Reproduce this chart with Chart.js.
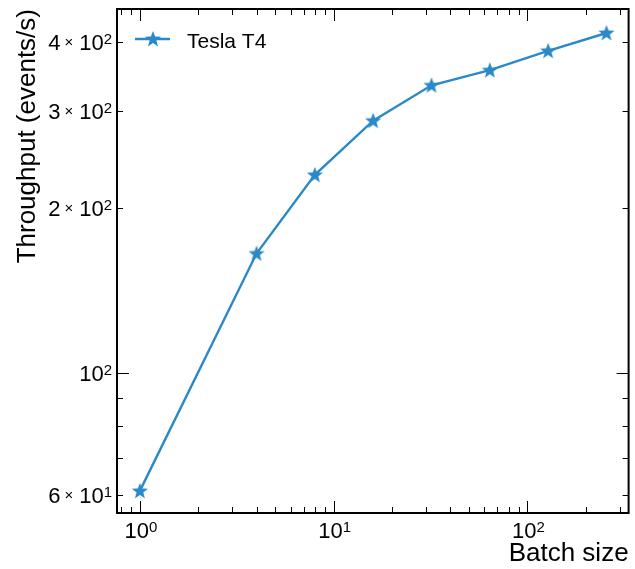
<!DOCTYPE html>
<html>
<head>
<meta charset="utf-8">
<script src="https://cdn.jsdelivr.net/npm/chart.js@4/dist/chart.umd.min.js"></script>
<style>
  html, body { margin: 0; padding: 0; background: #fff; }
  #wrap { width: 635px; height: 569px; }
</style>
</head>
<body>
<div id="wrap"><canvas id="chart"></canvas></div>
<script>
const batchSizes = [1, 4, 8, 16, 32, 64, 128, 256];
const throughput = [61, 165, 229.5, 288, 334, 356, 386, 416];
const seriesLabel = 'Tesla T4';

// tick positions; labels are [mantissa, exponent]
const xTickValues = [0.8, 0.9, 1, 2, 3, 4, 5, 6, 7, 8, 9, 10, 20, 30, 40, 50, 60, 70, 80, 90, 100, 200, 300];
const xMajor = [1, 10, 100];
const xTickLabels = { 1: ['', '0'], 10: ['', '1'], 100: ['', '2'] };

const yTickValues = [60, 70, 80, 90, 100, 200, 300, 400];
const yMajor = [100];
const yTickLabels = { 60: ['6', '1'], 100: ['', '2'], 200: ['2', '2'], 300: ['3', '2'], 400: ['4', '2'] };

const lineColor = '#2a89c6';
const fontFamily = '"Liberation Sans", Arial, sans-serif';
const tickSize = 22, supSize = 15;

// filled five-point star used as the marker
function makeStar(size, color) {
    const c = document.createElement('canvas');
    c.width = size; c.height = size;
    const g = c.getContext('2d');
    const cx = size / 2, cy = size / 2 + 0.5;
    const outer = size / 2 - 0.5, inner = outer * 0.42;
    g.beginPath();
    for (let i = 0; i < 10; i++) {
        const r = i % 2 === 0 ? outer : inner;
        const a = -Math.PI / 2 + i * Math.PI / 5;
        const px = cx + r * Math.cos(a), py = cy + r * Math.sin(a);
        if (i === 0) g.moveTo(px, py); else g.lineTo(px, py);
    }
    g.closePath();
    g.fillStyle = color;
    g.fill();
    return c;
}
const starImg = makeStar(18, lineColor);

// "m × 10^e" as pieces, measured so it can be aligned
function labelParts(ctx, lab) {
    const parts = [];
    if (lab[0]) {
        parts.push({ t: lab[0], size: tickSize, dy: 0, gap: 4 });
        parts.push({ t: '\u00d7', size: supSize, dy: -3, gap: 6 });
    }
    parts.push({ t: '10', size: tickSize, dy: 0, gap: 0 });
    parts.push({ t: lab[1], size: supSize, dy: -6, gap: 0 });
    let w = 0;
    parts.forEach(p => {
        ctx.font = p.size + 'px ' + fontFamily;
        p.w = ctx.measureText(p.t).width;
        w += p.w + p.gap;
    });
    return { parts, w };
}

function drawLabel(ctx, lab, xStart, baseline) {
    let x = xStart;
    lab.parts.forEach(p => {
        ctx.font = p.size + 'px ' + fontFamily;
        ctx.fillText(p.t, x, baseline + p.dy);
        x += p.w + p.gap;
    });
}

// frame, inward ticks on all sides, tick labels and the in-plot legend
const framePlugin = {
    id: 'frame',
    afterDraw(chart) {
        const ctx = chart.ctx;
        const { left, right, top, bottom } = chart.chartArea;
        const xs = chart.scales.x, ys = chart.scales.y;
        ctx.save();
        ctx.strokeStyle = '#000';
        ctx.lineWidth = 1;
        ctx.beginPath();
        xTickValues.forEach(v => {
            const px = Math.round(xs.getPixelForValue(v)) + 0.5;
            const len = xMajor.includes(v) ? 12 : 6;
            ctx.moveTo(px, bottom); ctx.lineTo(px, bottom - len);
            ctx.moveTo(px, top); ctx.lineTo(px, top + len);
        });
        yTickValues.forEach(v => {
            const py = Math.round(ys.getPixelForValue(v)) + 0.5;
            const len = yMajor.includes(v) ? 12 : 6;
            ctx.moveTo(left, py); ctx.lineTo(left + len, py);
            ctx.moveTo(right, py); ctx.lineTo(right - len, py);
        });
        ctx.stroke();
        ctx.lineWidth = 2;
        ctx.strokeRect(left, top, right - left, bottom - top);

        // tick labels
        ctx.fillStyle = '#000';
        ctx.textBaseline = 'alphabetic';
        ctx.textAlign = 'left';
        Object.keys(yTickLabels).forEach(k => {
            const lab = labelParts(ctx, yTickLabels[k]);
            const py = ys.getPixelForValue(Number(k));
            drawLabel(ctx, lab, left - 5 - lab.w, py + 0.358 * tickSize);
        });
        Object.keys(xTickLabels).forEach(k => {
            const lab = labelParts(ctx, xTickLabels[k]);
            const px = xs.getPixelForValue(Number(k));
            drawLabel(ctx, lab, px - lab.w / 2 + 1, bottom + 9 + 0.716 * tickSize);
        });

        // legend
        const ly = top + 30;
        ctx.strokeStyle = lineColor;
        ctx.lineWidth = 2.4;
        ctx.beginPath();
        ctx.moveTo(left + 18, ly); ctx.lineTo(left + 53, ly);
        ctx.stroke();
        ctx.drawImage(starImg, left + 36 - starImg.width / 2, ly - starImg.height / 2);
        ctx.fillStyle = '#000';
        ctx.font = '21px ' + fontFamily;
        ctx.fillText(chart.data.datasets[0].label, left + 70, ly + 8.5);
        ctx.restore();
    }
};

new Chart(document.getElementById('chart'), {
    type: 'line',
    data: {
        labels: batchSizes,
        datasets: [{
            label: seriesLabel,
            data: batchSizes.map((b, i) => ({ x: b, y: throughput[i] })),
            borderColor: lineColor,
            backgroundColor: lineColor,
            borderWidth: 2.4,
            pointStyle: starImg,
            tension: 0
        }]
    },
    options: {
        responsive: true,
        maintainAspectRatio: false,
        animation: false,
        layout: { padding: { top: 9, right: 1, left: 0, bottom: 0 } },
        plugins: {
            legend: { display: false },
            tooltip: { enabled: false }
        },
        scales: {
            x: {
                type: 'logarithmic',
                min: 0.762,
                max: 333,
                afterBuildTicks: s => { s.ticks = xTickValues.map(v => ({ value: v })); },
                afterFit: s => { s.height = 56; s.paddingLeft = 0; s.paddingRight = 0; },
                grid: { display: false, drawTicks: false },
                border: { display: false },
                ticks: { autoSkip: false, maxRotation: 0, callback: () => '' },
                title: {
                    display: true,
                    text: 'Batch size',
                    align: 'end',
                    color: '#000',
                    font: { family: fontFamily, size: 26 },
                    padding: { top: 0, bottom: 0 }
                }
            },
            y: {
                type: 'logarithmic',
                min: 55.6,
                max: 460,
                afterBuildTicks: s => { s.ticks = yTickValues.map(v => ({ value: v })); },
                afterFit: s => { s.width = 117; s.paddingTop = 0; s.paddingBottom = 0; },
                grid: { display: false, drawTicks: false },
                border: { display: false },
                ticks: { autoSkip: false, callback: () => '' },
                title: {
                    display: true,
                    text: 'Throughput (events/s)',
                    align: 'end',
                    color: '#000',
                    font: { family: fontFamily, size: 26 },
                    padding: { top: 12, bottom: 0 }
                }
            }
        }
    },
    plugins: [framePlugin]
});
</script>
</body>
</html>
